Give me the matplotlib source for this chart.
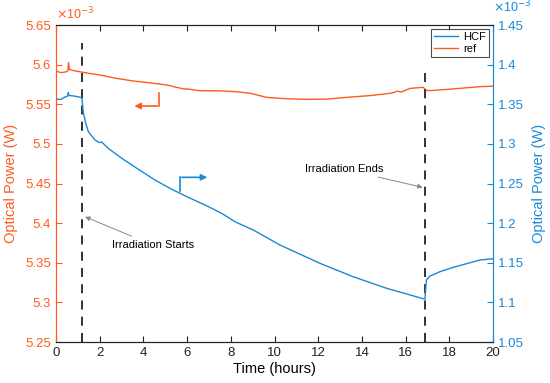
import matplotlib.pyplot as plt
import numpy as np

plt.rcParams['font.family'] = ['Liberation Sans', 'DejaVu Sans']

orange = '#FF5A1F'
blue = '#1A88D6'

# ref power (x1e-3 W), left axis
ref_t = [0.0, 0.15, 0.26, 0.4, 0.5, 0.55, 0.57, 0.62, 0.8, 1.1, 1.5, 2.0, 2.7, 3.5,
         4.3, 5.07, 5.3, 5.45, 5.6, 5.8, 6.1, 6.6, 7.5, 8.2, 8.9, 9.64, 10.5,
         11.47, 12.4, 13.3, 14.4, 15.2, 15.44, 15.6, 15.8, 16.2, 16.8, 16.95,
         17.1, 18.0, 19.4, 20.0]
ref_p = [5.592, 5.5905, 5.590, 5.5905, 5.5914, 5.5925, 5.6025, 5.594, 5.5925, 5.591,
         5.589, 5.587, 5.583, 5.5795, 5.577, 5.5743, 5.573, 5.5715, 5.571, 5.5695,
         5.569, 5.567, 5.567, 5.5659, 5.5638, 5.5587, 5.557, 5.5562, 5.5565,
         5.5587, 5.561, 5.5635, 5.5646, 5.5665, 5.5655, 5.570, 5.5714, 5.5675,
         5.5672, 5.569, 5.5722, 5.5728]

# HCF power (x1e-3 W), right axis
hcf_t = [0.0, 0.1, 0.26, 0.4, 0.52, 0.56, 0.6, 0.8, 1.0, 1.14, 1.19, 1.25, 1.35,
         1.48, 1.78, 2.0, 2.09, 2.2, 2.39, 3.01, 3.77, 4.53, 5.3, 6.05, 6.82,
         7.58, 8.19, 9.03, 10.25, 12.08, 13.6, 15.13, 16.0, 16.88, 16.9, 16.95,
         17.1, 17.57, 18.18, 19.4, 20.0]
hcf_p = [1.3575, 1.3560, 1.3565, 1.3590, 1.3600, 1.3650, 1.3610, 1.3605, 1.3595,
         1.3585, 1.3575, 1.340, 1.327, 1.3154, 1.305, 1.3015, 1.3025, 1.2995,
         1.2944, 1.2818, 1.2679, 1.2544, 1.2427, 1.2326, 1.2229, 1.2124, 1.2018,
         1.1913, 1.1724, 1.1493, 1.1324, 1.1178, 1.1110, 1.1040, 1.1100, 1.1280,
         1.1330, 1.1387, 1.1442, 1.1535, 1.1550]

legend_names = ['HCF', 'ref']
irr_start = 1.19
irr_end = 16.9

fig = plt.figure(figsize=(5.5, 3.83), dpi=100)
ax = fig.add_axes([0.1018, 0.107, 0.7946, 0.8277])
ax2 = ax.twinx()

l_ref, = ax.plot(ref_t, ref_p, color=orange, lw=1.0)
l_hcf, = ax2.plot(hcf_t, hcf_p, color=blue, lw=1.0)

ax.set_xlim(0, 20)
ax.set_ylim(5.25, 5.65)
ax2.set_ylim(1.05, 1.45)
ax.set_xticks(np.arange(0, 21, 2))
ax.set_yticks(np.arange(5.25, 5.651, 0.05))
ax.set_yticklabels(['5.25', '5.3', '5.35', '5.4', '5.45', '5.5', '5.55', '5.6', '5.65'])
ax2.set_yticks(np.arange(1.05, 1.451, 0.05))
ax2.set_yticklabels(['1.05', '1.1', '1.15', '1.2', '1.25', '1.3', '1.35', '1.4', '1.45'])

# dashed irradiation markers
ax.plot([irr_start, irr_start], [5.25, 5.6273], color='#222222', ls=(0, (5, 4)), lw=1.3)
ax.plot([irr_end, irr_end], [5.25, 5.5894], color='#222222', ls=(0, (5, 4)), lw=1.3)

# axis pointer arrows
ax.plot([4.73, 4.73], [5.5646, 5.5478], color=orange, lw=1.2)
ax.annotate('', xy=(3.46, 5.5478), xytext=(4.78, 5.5478),
            arrowprops=dict(arrowstyle='-|>', color=orange, lw=1.2, mutation_scale=9))
ax2.plot([5.68, 5.68], [1.2409, 1.2578], color=blue, lw=1.2)
ax2.annotate('', xy=(7.05, 1.2578), xytext=(5.63, 1.2578),
             arrowprops=dict(arrowstyle='-|>', color=blue, lw=1.2, mutation_scale=9))

# annotations
ax.annotate('Irradiation Starts', xy=(1.33, 5.408), xytext=(2.55, 5.3724),
            fontsize=8, ha='left', va='center',
            arrowprops=dict(arrowstyle='-|>', color='#888888', lw=0.7,
                            mutation_scale=7, shrinkA=2, shrinkB=0))
ax.annotate('Irradiation Ends', xy=(16.78, 5.4452), xytext=(11.4, 5.4679),
            fontsize=8, ha='left', va='center',
            arrowprops=dict(arrowstyle='-|>', color='#888888', lw=0.7,
                            mutation_scale=7, shrinkA=0, shrinkB=0))

# spines, ticks
for a in (ax, ax2):
    a.spines['left'].set_color(orange)
    a.spines['right'].set_color(blue)
    a.spines['top'].set_color('#222222')
    a.spines['bottom'].set_color('#222222')
ax.tick_params(axis='y', colors=orange, direction='in', labelsize=9.5, length=4)
ax2.tick_params(axis='y', colors=blue, direction='in', labelsize=9.5, length=4)
ax.tick_params(axis='x', direction='in', top=True, labelsize=9.5, length=4,
               colors='#222222', labelcolor='#222222')

ax.set_xlabel('Time (hours)', fontsize=10.5, labelpad=2)
ax.set_ylabel('Optical Power (W)', color=orange, fontsize=10.5, labelpad=5)
ax2.set_ylabel('Optical Power (W)', color=blue, fontsize=10.5, labelpad=6)

ax.text(0.0, 1.01, r'$\times$10$^{-3}$', transform=ax.transAxes, color=orange,
        fontsize=9, ha='left', va='bottom')
ax2.text(1.0, 1.03, r'$\times$10$^{-3}$', transform=ax2.transAxes, color=blue,
         fontsize=9, ha='left', va='bottom')

leg = ax2.legend([l_hcf, l_ref], legend_names, loc='upper right', fontsize=8,
                 frameon=True, fancybox=False, edgecolor='#222222',
                 borderaxespad=0.4, handlelength=2.2, borderpad=0.25,
                 labelspacing=0.15, handletextpad=0.4)
leg.get_frame().set_linewidth(0.8)

fig.savefig('out.png', dpi=100)
